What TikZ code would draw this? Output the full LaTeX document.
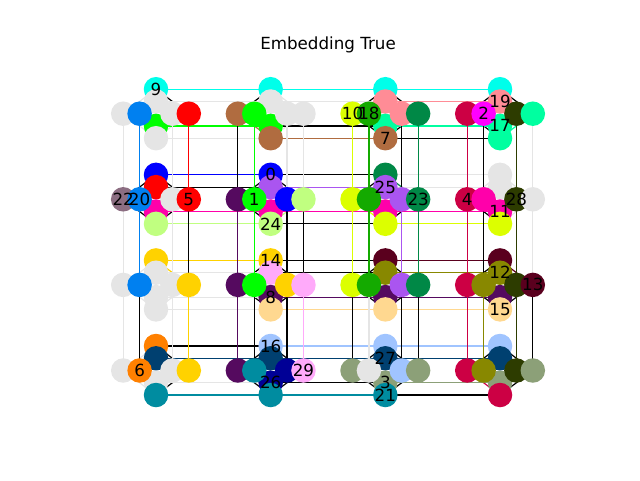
\documentclass[tikz,border=0pt]{standalone}
\usepackage{fontspec}
\setmainfont{DejaVu Sans}
\usetikzlibrary{backgrounds}
\definecolor{gr}{RGB}{229,229,229}
\definecolor{c0}{RGB}{0,0,255}
\definecolor{c1}{RGB}{0,255,0}
\definecolor{c2}{RGB}{255,0,255}
\definecolor{c3}{RGB}{140,160,120}
\definecolor{c4}{RGB}{204,0,68}
\definecolor{c5}{RGB}{255,0,0}
\definecolor{c6}{RGB}{255,128,0}
\definecolor{c7}{RGB}{176,108,64}
\definecolor{c8}{RGB}{85,10,95}
\definecolor{c9}{RGB}{0,255,234}
\definecolor{c10}{RGB}{220,255,0}
\definecolor{c11}{RGB}{255,0,170}
\definecolor{c12}{RGB}{136,136,0}
\definecolor{c13}{RGB}{90,0,30}
\definecolor{c14}{RGB}{255,210,0}
\definecolor{c15}{RGB}{255,216,144}
\definecolor{c16}{RGB}{160,196,255}
\definecolor{c17}{RGB}{0,255,160}
\definecolor{c18}{RGB}{20,170,0}
\definecolor{c19}{RGB}{255,140,150}
\definecolor{c20}{RGB}{0,128,240}
\definecolor{c21}{RGB}{0,140,160}
\definecolor{c22}{RGB}{140,110,130}
\definecolor{c23}{RGB}{0,136,70}
\definecolor{c24}{RGB}{192,255,128}
\definecolor{c25}{RGB}{170,85,240}
\definecolor{c26}{RGB}{0,0,150}
\definecolor{c27}{RGB}{0,64,112}
\definecolor{c28}{RGB}{45,60,0}
\definecolor{c29}{RGB}{255,170,250}
% edge colour: chain colour, grey if a qubit is unused, black between chains
\def\unusedname{gr}
\newcommand{\pickcol}[2]{%
  \edef\edgecolA{\csname qc-#1\endcsname}%
  \edef\edgecolB{\csname qc-#2\endcsname}%
  \ifx\edgecolA\edgecolB \let\ecol\edgecolA
  \else\ifx\edgecolA\unusedname \def\ecol{gr}%
  \else\ifx\edgecolB\unusedname \def\ecol{gr}%
  \else \def\ecol{black}\fi\fi\fi}

\begin{document}
\begin{tikzpicture}[x=1pt, y=-1pt,
    qubit/.style={circle, inner sep=0pt, minimum size=24.5pt, draw=none},
    edge/.style={line width=1.2pt},
    lbl/.style={inner sep=0pt, font=\fontsize{16.7}{20}\selectfont}]
  \useasboundingbox (0,0) rectangle (640,480);
  \node[anchor=base, font=\fontsize{16.7}{20}\selectfont] (title) at (328,49.3) {Embedding True};

  % qubits: column shore C0..C3, then row shore R0..R3, per cell
  \foreach \r/\c/\ca/\cb/\cc/\cd/\ra/\rb/\rc/\rd in {
      0/0/c9/gr/c1/gr/gr/c20/gr/c5,
      0/1/c9/gr/c1/c7/c7/c1/gr/gr,
      0/2/c9/c19/c17/c7/c10/c18/c19/c23,
      0/3/c9/c19/c17/c17/c4/c2/c28/c17,
      1/0/c0/c5/c11/c24/c22/c20/gr/c5,
      1/1/c0/c25/c11/c24/c8/c1/c0/c24,
      1/2/c23/c25/c11/c10/c10/c18/c25/c23,
      1/3/gr/gr/c11/c10/c4/c11/c28/gr,
      2/0/c14/gr/gr/gr/gr/c20/gr/c14,
      2/1/c14/c29/c8/c15/c8/c1/c14/c29,
      2/2/c13/c12/c8/c15/c10/c18/c25/c23,
      2/3/c13/c12/c8/c15/c4/c12/c28/c13,
      3/0/c6/c27/gr/c21/gr/c6/gr/c14,
      3/1/c16/c27/c26/c21/c8/c21/c26/c29,
      3/2/c16/c27/c3/c21/c3/gr/c16/c3,
      3/3/c16/c27/c3/c4/c4/c12/c28/c3}{
    \foreach \k/\dy/\fc in {0/-24.5/\ca, 1/-12.2/\cb, 2/12.2/\cc, 3/24.5/\cd}{
      \node[qubit, fill=\fc] (q-\r-\c-C\k) at ({156+114.67*\c}, {113.7+85.6*\r+\dy}) {};
      \expandafter\xdef\csname qc-\r-\c-C\k\endcsname{\fc}
    }
    \foreach \k/\dx/\fc in {0/-32.8/\ra, 1/-16.4/\rb, 2/16.4/\rc, 3/32.8/\rd}{
      \node[qubit, fill=\fc] (q-\r-\c-R\k) at ({156+114.67*\c+\dx}, {113.7+85.6*\r}) {};
      \expandafter\xdef\csname qc-\r-\c-R\k\endcsname{\fc}
    }
  }

  \begin{scope}[on background layer]
    % couplers inside a cell
    \foreach \r in {0,...,3}{\foreach \c in {0,...,3}{\foreach \i in {0,...,3}{\foreach \j in {0,...,3}{
      \pickcol{\r-\c-C\i}{\r-\c-R\j}
      \draw[edge, draw=\ecol] (q-\r-\c-C\i.center) -- (q-\r-\c-R\j.center);
    }}}}
    % couplers between cells
    \foreach \r in {0,...,3}{\foreach \c [evaluate=\c as \cn using int(\c+1)] in {0,1,2}{\foreach \k in {0,...,3}{
      \pickcol{\r-\c-C\k}{\r-\cn-C\k}
      \draw[edge, draw=\ecol] (q-\r-\c-C\k.center) -- (q-\r-\cn-C\k.center);
    }}}
    \foreach \r [evaluate=\r as \rn using int(\r+1)] in {0,1,2}{\foreach \c in {0,...,3}{\foreach \k in {0,...,3}{
      \pickcol{\r-\c-R\k}{\rn-\c-R\k}
      \draw[edge, draw=\ecol] (q-\r-\c-R\k.center) -- (q-\rn-\c-R\k.center);
    }}}
  \end{scope}

  % chain labels
  \foreach \n/\at in {0/q-1-1-C0, 1/q-1-1-R1, 2/q-0-3-R1, 3/q-3-2-C2, 4/q-1-3-R0,
      5/q-1-0-R3, 6/q-3-0-R1, 7/q-0-2-C3, 8/q-2-1-C2, 9/q-0-0-C0,
      10/q-0-2-R0, 11/q-1-3-C2, 12/q-2-3-C1, 13/q-2-3-R3, 14/q-2-1-C0,
      15/q-2-3-C3, 16/q-3-1-C0, 17/q-0-3-C2, 18/q-0-2-R1, 19/q-0-3-C1,
      20/q-1-0-R1, 21/q-3-2-C3, 22/q-1-0-R0, 23/q-1-2-R3, 24/q-1-1-C3,
      25/q-1-2-C1, 26/q-3-1-C2, 27/q-3-2-C1, 28/q-1-3-R2, 29/q-3-1-R3}{
    \node[lbl] (l\n) at (\at) {\n};
  }
\end{tikzpicture}
\end{document}
